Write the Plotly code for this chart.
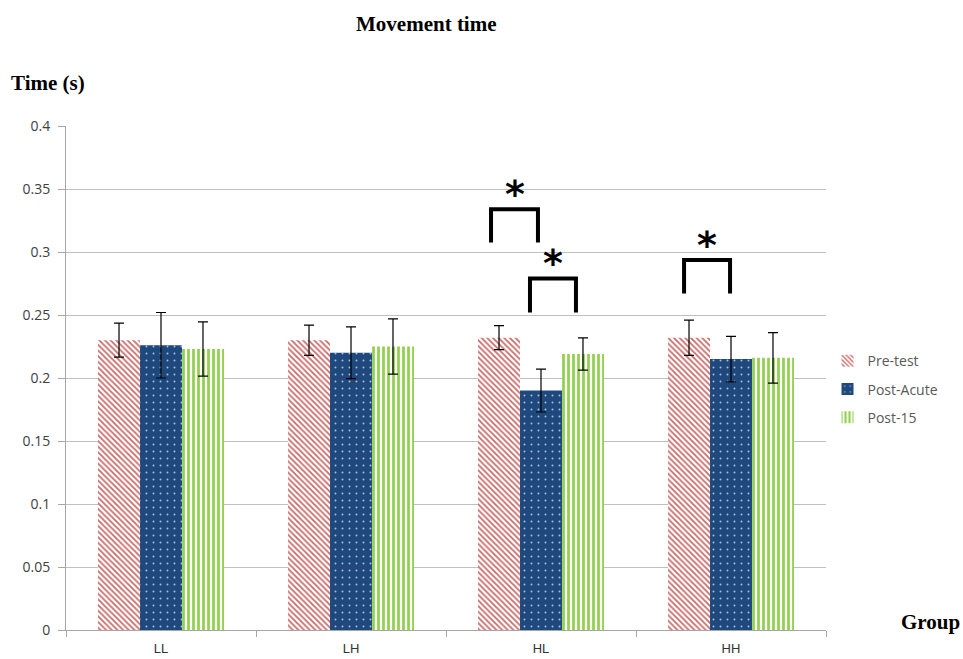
import plotly.graph_objects as go

groups = ["LL", "LH", "HL", "HH"]
series_names = ["Pre-test", "Post-Acute", "Post-15"]
pre_test = [0.230, 0.230, 0.232, 0.232]
post_acute = [0.226, 0.220, 0.190, 0.215]
post_15 = [0.223, 0.225, 0.219, 0.216]
pre_err = [0.0135, 0.012, 0.0095, 0.014]
acute_err = [0.026, 0.0205, 0.017, 0.018]
post15_err = [0.0215, 0.022, 0.0128, 0.020]

# significance brackets: (x start, x end, top, leg bottom) on the category axis index scale
brackets = [
    (1.737, 1.984, 0.334, 0.3075),
    (1.942, 2.184, 0.279, 0.252),
    (2.753, 2.995, 0.2937, 0.267),
]

serif = "Liberation Serif, Times New Roman, serif"
narrow = "Liberation Sans Narrow, Arial Narrow, Liberation Sans, sans-serif"

fig = go.Figure()
styles = [
    dict(fillmode="overlay", shape="\\", fgcolor="#C0504D", fgopacity=0.85,
         bgcolor="white", size=4, solidity=0.45),
    dict(fillmode="replace", shape=".", fgcolor="#A9BEDC", bgcolor="#1F497D",
         size=7, solidity=0.06),
    dict(fillmode="overlay", shape="|", fgcolor="#92D050", fgopacity=1,
         bgcolor="white", size=5, solidity=0.55),
]
colors = ["white", "#1F497D", "white"]
for name, vals, errs, st, col in zip(series_names, [pre_test, post_acute, post_15],
                                      [pre_err, acute_err, post15_err], styles, colors):
    fig.add_trace(go.Bar(
        name=name, x=groups, y=vals, legendgroup=name,
        marker=dict(color=col, pattern=st, line=dict(width=0)),
        error_y=dict(type="data", array=errs, color="black", thickness=1.2, width=5),
    ))

for x0, x1, top, bot in brackets:
    fig.add_shape(type="path", xref="x", yref="y",
                  path=f"M {x0} {bot} L {x0} {top} L {x1} {top} L {x1} {bot}",
                  line=dict(color="black", width=4))
    fig.add_annotation(x=(x0 + x1) / 2, y=top, xref="x", yref="y", text="<b>*</b>",
                       showarrow=False, yanchor="bottom", yshift=-9,
                       font=dict(family="DejaVu Sans, sans-serif", size=38, color="black"))

fig.update_layout(
    width=963, height=659,
    margin=dict(l=66, r=137, t=126, b=29),
    paper_bgcolor="white", plot_bgcolor="white",
    barmode="group", bargap=0.337, bargroupgap=0,
    showlegend=True,
    legend=dict(x=1.002, y=0.565, xanchor="left", yanchor="top",
                font=dict(family="Open Sans, sans-serif", size=14, color="#595959"),
                tracegroupgap=7, itemwidth=30),
    xaxis=dict(showline=True, linecolor="#A6A6A6", linewidth=1, automargin=False,
               ticks="outside", tickson="boundaries", ticklen=6, tickcolor="#A6A6A6",
               ticklabelstandoff=6,
               tickfont=dict(family=narrow, size=13, color="#333333"),
               range=[-0.5, 3.5]),
    yaxis=dict(range=[0, 0.4], dtick=0.05, showgrid=True, gridcolor="#BFBFBF", gridwidth=1,
               showline=True, linecolor="#A6A6A6", linewidth=1, automargin=False,
               ticks="outside", ticklen=7, tickcolor="#A6A6A6", ticklabelstandoff=5,
               tickfont=dict(family="Open Sans, sans-serif", size=14, color="#404040"),
               zeroline=False),
)

fig.add_annotation(text="<b>Movement time</b>", xref="paper", yref="paper", x=0.474, y=1.0,
                   yshift=102, showarrow=False, xanchor="center", yanchor="middle",
                   font=dict(family=serif, size=21, color="black"))
fig.add_annotation(text="<b>Time (s)</b>", xref="paper", yref="paper", x=0, y=1.0,
                   xshift=-18, yshift=43, showarrow=False, xanchor="center", yanchor="middle",
                   font=dict(family=serif, size=21, color="black"))
fig.add_annotation(text="<b>Group</b>", xref="paper", yref="paper", x=1.0, y=0,
                   xshift=104, yshift=8, showarrow=False, xanchor="center", yanchor="middle",
                   font=dict(family=serif, size=21, color="black"))

fig.write_html("out.html")
